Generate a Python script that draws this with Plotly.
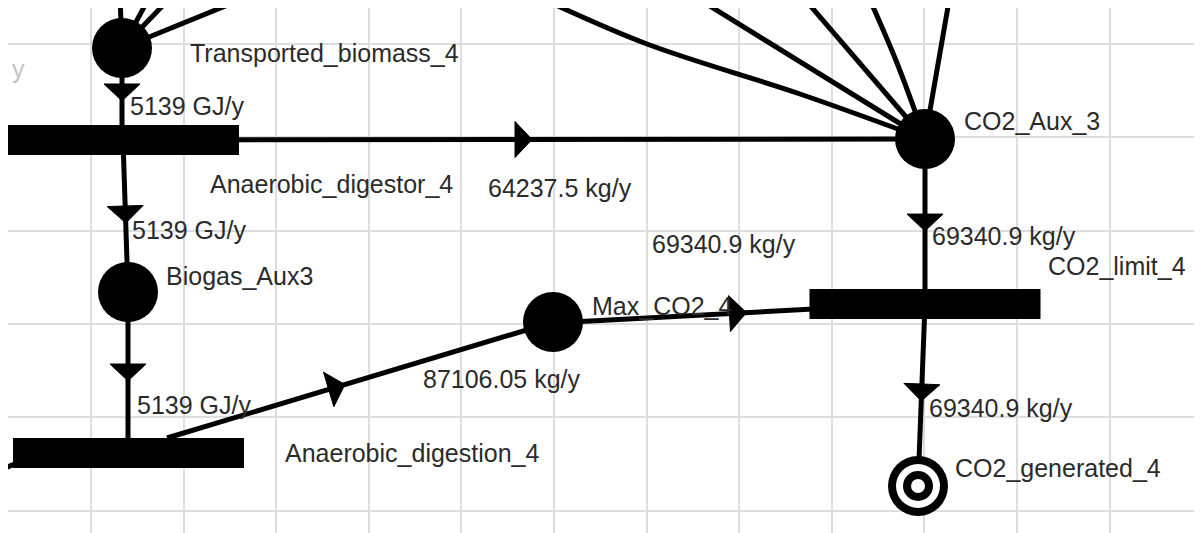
"""Petri net excerpt: anaerobic digestion / CO2 balance."""
import plotly.graph_objects as go

# places (circles)
place_names = ["Transported_biomass_4", "Biogas_Aux3", "CO2_Aux_3", "Max_CO2_4", "CO2_generated_4"]
place_x = [122, 128, 925, 553, 918]
place_y = [47, 291, 138, 321, 485]
place_label_x = [188, 164, 962, 590, 953]
place_label_y = [52, 275, 120, 305, 467]

# transitions (bars)
trans_names = ["Anaerobic_digestor_4", "Anaerobic_digestion_4", "CO2_limit_4"]
trans_x = [123.5, 128.5, 925]
trans_y = [139, 452, 303]
trans_label_x = [208, 283, 1046]
trans_label_y = [183, 452, 265]

# arcs with flow values
arc_x0 = [122, 123, 128, 123, 925, 925, 167, 553]
arc_y0 = [47, 139, 291, 139, 138, 303, 437, 322]
arc_x1 = [122, 128, 128, 925, 925, 918, 553, 925]
arc_y1 = [139, 291, 452, 138, 303, 485, 321, 302]
arc_tip = [0.576, 0.546, 0.553, 0.51, 0.558, 0.533, 0.461, 0.52]
arc_labels = ["5139 GJ/y", "5139 GJ/y", "5139 GJ/y", "64237.5 kg/y",
              "69340.9 kg/y", "69340.9 kg/y", "87106.05 kg/y", "69340.9 kg/y"]
arc_label_x = [128, 130, 135, 486, 930, 927, 421, 650]
arc_label_y = [105, 229, 404, 187, 235, 407, 378, 243]

# arcs coming from / going to nodes outside the visible window
stub_paths = [
    [(122, 47), (120, -5)],
    [(122, 47), (150, -5)],
    [(122, 47), (172, -5)],
    [(122, 47), (250, -5)],
    [(545, -1), (647, 43), (800, 93), (925, 138)],
    [(705, 2), (925, 138)],
    [(808, 2), (925, 138)],
    [(870, -1), (897, 62), (925, 138)],
    [(949, 0), (925, 138)],
    [(20, 461), (-40, 485)],
]

INK = "#000000"
TEXT = "#2b2b2b"
GRID = "#dddddd"
FONT = dict(family="Liberation Sans, Arial, sans-serif", size=25, color=TEXT)
ARC_W = 5
HEAD_LEN, HEAD_HALF = 17, 18
BAR_W, BAR_H = 231, 30
PAGE_MARGIN = 8  # default body margin of the html page


def arrow_head(x0, y0, x1, y1, t):
    dx, dy = x1 - x0, y1 - y0
    n = (dx * dx + dy * dy) ** 0.5
    ux, uy = dx / n, dy / n
    tx, ty = x0 + t * dx, y0 + t * dy
    bx, by = tx - HEAD_LEN * ux, ty - HEAD_LEN * uy
    return ([tx, bx - HEAD_HALF * uy, bx + HEAD_HALF * uy, tx],
            [ty, by + HEAD_HALF * ux, by - HEAD_HALF * ux, ty])


fig = go.Figure()

for path in stub_paths:
    fig.add_trace(go.Scatter(
        x=[p[0] for p in path], y=[p[1] for p in path], mode="lines",
        line=dict(color=INK, width=ARC_W, shape="spline" if len(path) > 2 else "linear"),
        hoverinfo="skip", showlegend=False,
    ))

for x0, y0, x1, y1, t in zip(arc_x0, arc_y0, arc_x1, arc_y1, arc_tip):
    fig.add_trace(go.Scatter(
        x=[x0, x1], y=[y0, y1], mode="lines",
        line=dict(color=INK, width=ARC_W), hoverinfo="skip", showlegend=False,
    ))
    hx, hy = arrow_head(x0, y0, x1, y1, t)
    fig.add_trace(go.Scatter(
        x=hx, y=hy, mode="lines", fill="toself", fillcolor=INK,
        line=dict(color=INK, width=1), hoverinfo="skip", showlegend=False,
    ))

# transitions as bars
for cx, cy in zip(trans_x, trans_y):
    fig.add_shape(type="rect", xref="x", yref="y",
                  x0=cx - BAR_W / 2, x1=cx + BAR_W / 2,
                  y0=cy - BAR_H / 2, y1=cy + BAR_H / 2,
                  fillcolor=INK, line=dict(width=0), layer="above")

# places: plain black tokens, final place drawn as a target ring
normal = [i for i, n in enumerate(place_names) if n != "CO2_generated_4"]
fig.add_trace(go.Scatter(
    x=[place_x[i] for i in normal], y=[place_y[i] for i in normal], mode="markers",
    marker=dict(size=60, color=INK, line=dict(width=0)),
    hovertext=[place_names[i] for i in normal], hoverinfo="text", showlegend=False,
))
sink = place_names.index("CO2_generated_4")
for size, col in [(60, INK), (44, "white"), (30, INK), (14, "white")]:
    fig.add_trace(go.Scatter(
        x=[place_x[sink]], y=[place_y[sink]], mode="markers",
        marker=dict(size=size, color=col, line=dict(width=0)),
        hoverinfo="skip", showlegend=False,
    ))

labels = (list(zip(place_names, place_label_x, place_label_y))
          + list(zip(trans_names, trans_label_x, trans_label_y))
          + list(zip(arc_labels, arc_label_x, arc_label_y)))
for txt, lx, ly in labels:
    fig.add_annotation(x=lx, y=ly, text=txt, showarrow=False,
                       xanchor="left", yanchor="middle", font=FONT)
# faint remnant of a label at the left edge
fig.add_annotation(x=10, y=68, text="y", showarrow=False, xanchor="left",
                   yanchor="middle", font=dict(FONT, color="#c4c4c4"))

W, H = 1202, 533
fig.update_xaxes(range=[PAGE_MARGIN, PAGE_MARGIN + W], showgrid=True, gridcolor=GRID,
                 gridwidth=2, tick0=91, dtick=92.6, showticklabels=False,
                 zeroline=False, showline=False, ticks="")
fig.update_yaxes(range=[PAGE_MARGIN + H - 1, PAGE_MARGIN - 1], showgrid=True, gridcolor=GRID,
                 gridwidth=2, tick0=43, dtick=93.3, showticklabels=False,
                 zeroline=False, showline=False, ticks="")
fig.update_layout(
    width=W, height=H, margin=dict(l=0, r=0, t=0, b=0),
    paper_bgcolor="white", plot_bgcolor="white", showlegend=False,
)
fig.write_html("out.html")
